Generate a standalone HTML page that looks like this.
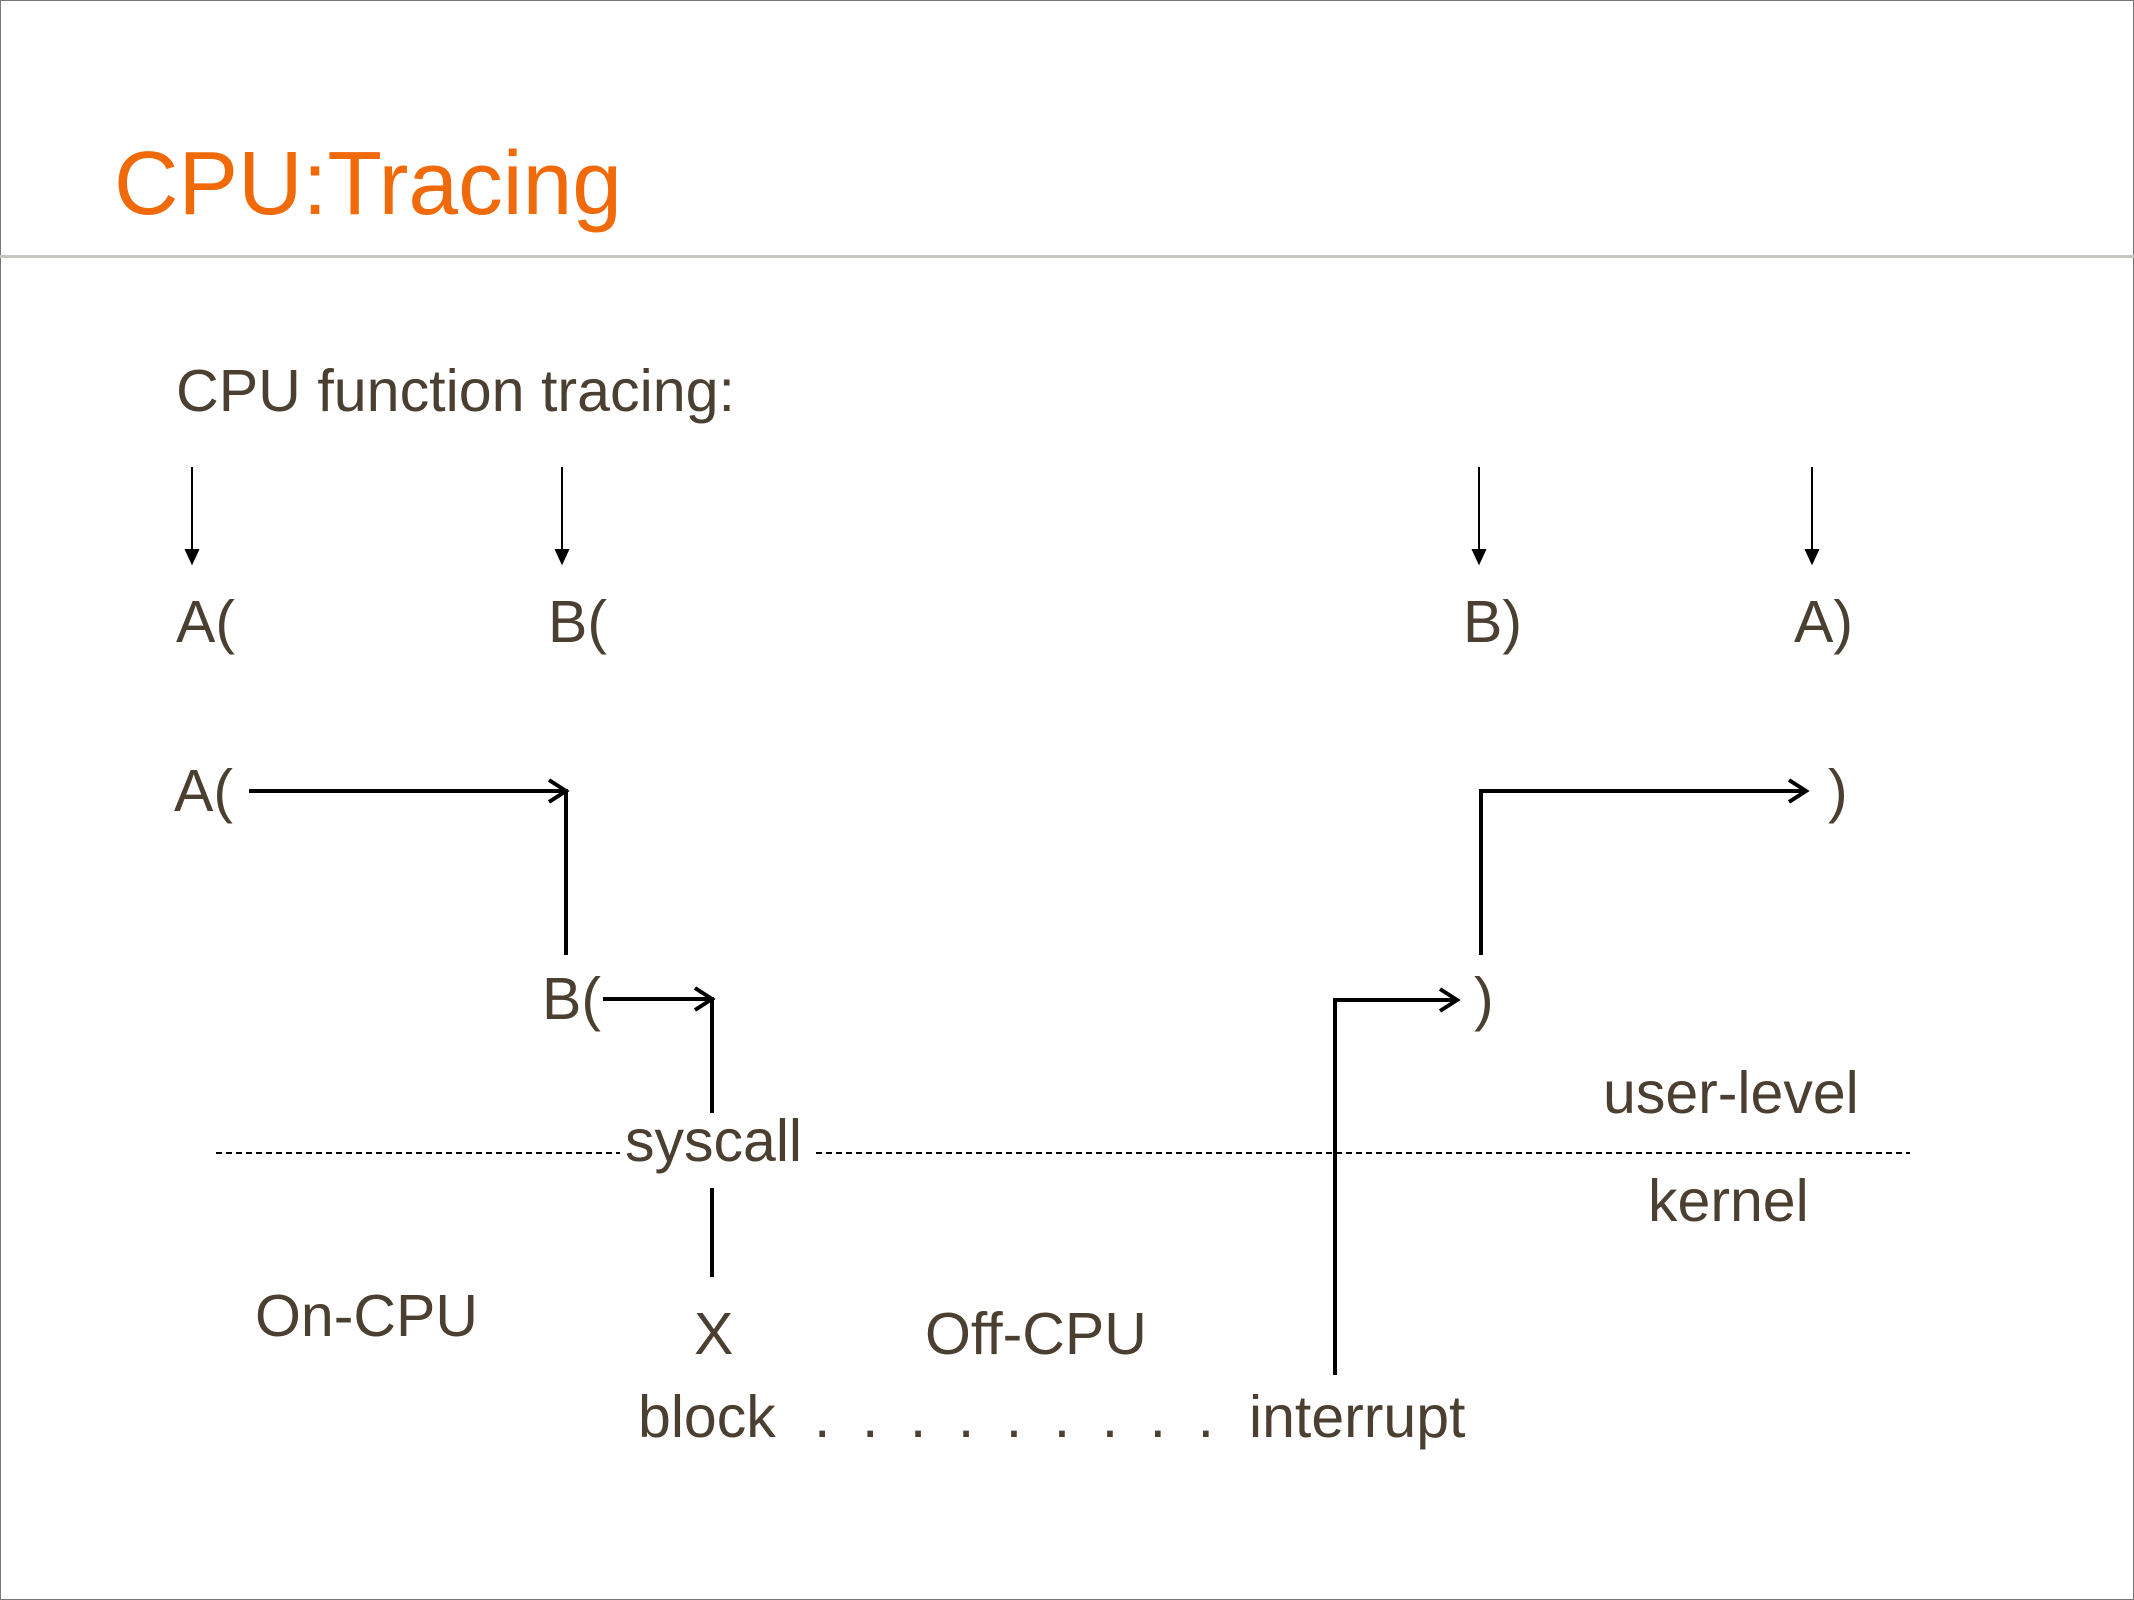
<!DOCTYPE html>
<html><head><meta charset="utf-8"><style>
html,body{margin:0;padding:0;background:#fff}
svg{display:block}
</style></head><body>
<svg width="2134" height="1600" viewBox="0 0 2134 1600" xmlns="http://www.w3.org/2000/svg">
<rect x="0.5" y="0.5" width="2133" height="1599" fill="#fff" stroke="#777" stroke-width="1"/>
<text x="114" y="214" font-family="Liberation Sans, sans-serif" font-size="90" fill="#f06a0a" textLength="508" lengthAdjust="spacingAndGlyphs">CPU:Tracing</text>
<rect x="0" y="255" width="2134" height="3" fill="#c8c6c0"/>
<g font-family="Liberation Sans, sans-serif" font-size="59" fill="#4a3f30">
<text x="176" y="411" textLength="559" lengthAdjust="spacingAndGlyphs">CPU function tracing:</text>
<text x="176" y="642">A(</text>
<text x="548" y="642">B(</text>
<text x="1463" y="642">B)</text>
<text x="1794" y="642">A)</text>
<text x="174" y="811">A(</text>
<text x="1828" y="811">)</text>
<text x="542" y="1019">B(</text>
<text x="1474" y="1019">)</text>
<text x="625" y="1161">syscall</text>
<text x="1603" y="1113">user-level</text>
<text x="1648" y="1221">kernel</text>
<text x="255" y="1336">On-CPU</text>
<text x="694" y="1354">X</text>
<text x="925" y="1354">Off-CPU</text>
<text x="638" y="1437">block</text>
<text x="814" y="1437" textLength="400" lengthAdjust="spacing">. . . . . . . . .</text>
<text x="1249" y="1437">interrupt</text>
</g>
<g stroke="#000" stroke-width="2" fill="#000">
<line x1="192" y1="467" x2="192" y2="556"/><path d="M186 550 L192 563 L198 550 Z"/>
<line x1="562" y1="467" x2="562" y2="556"/><path d="M556 550 L562 563 L568 550 Z"/>
<line x1="1479" y1="467" x2="1479" y2="556"/><path d="M1473 550 L1479 563 L1485 550 Z"/>
<line x1="1812" y1="467" x2="1812" y2="556"/><path d="M1806 550 L1812 563 L1818 550 Z"/>
</g>
<g stroke="#000" stroke-width="4" fill="none">
<path d="M249 791 H566 V955"/><path d="M549 780 L566 791 L549 802"/>
<path d="M603 999 H712 V1113"/><path d="M695 988 L712 999 L695 1010"/>
<line x1="712" y1="1188" x2="712" y2="1277"/>
<path d="M1335 1375 V1000 H1457"/><path d="M1440 989 L1457 1000 L1440 1011"/>
<path d="M1481 955 V791 H1806"/><path d="M1789 780 L1806 791 L1789 802"/>
</g>
<g stroke="#000" stroke-width="2" stroke-dasharray="6,4">
<line x1="216" y1="1153" x2="620" y2="1153"/>
<line x1="816" y1="1153" x2="1910" y2="1153"/>
</g>
</svg>
</body></html>
